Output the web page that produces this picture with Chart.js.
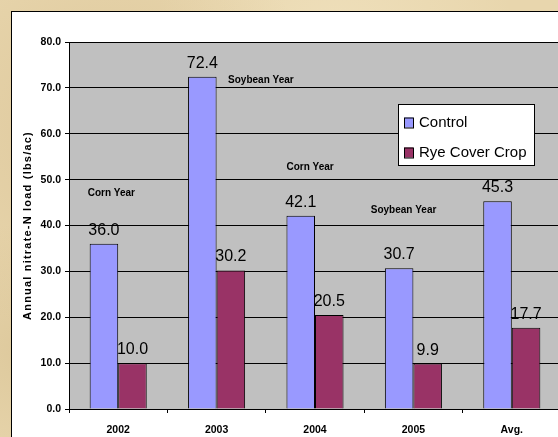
<!DOCTYPE html>
<html>
<head>
<meta charset="utf-8">
<script src="https://cdn.jsdelivr.net/npm/chart.js@4"></script>
<style>
  html, body {
    margin: 0;
    width: 558px;
    height: 437px;
    overflow: hidden;
    background-color: #e8d6ad;
    background-image:
      radial-gradient(circle at 20% 30%, rgba(200,170,120,0.35) 0, rgba(200,170,120,0) 40%),
      radial-gradient(circle at 80% 70%, rgba(190,160,110,0.3) 0, rgba(190,160,110,0) 45%),
      radial-gradient(circle at 60% 10%, rgba(245,232,200,0.5) 0, rgba(245,232,200,0) 35%),
      radial-gradient(circle at 5% 80%, rgba(205,180,130,0.4) 0, rgba(205,180,130,0) 20%);
  }
  #frame {
    position: absolute;
    left: 11px;
    top: 11px;
    width: 570px;
    height: 450px;
    background: #fff;
    border-left: 1px solid #000;
    border-top: 1px solid #000;
  }
  canvas { display: block; }
</style>
</head>
<body>
<div id="frame">
  <canvas id="nitrateChart" width="560" height="440"></canvas>
</div>
<script>
  // Chart data
  const categories = ['2002', '2003', '2004', '2005', 'Avg.'];
  const controlValues = [36.0, 72.4, 42.1, 30.7, 45.3];
  const ryeValues = [10.0, 30.2, 20.5, 9.9, 17.7];
  const seriesNames = ['Control', 'Rye Cover Crop'];
  const yMin = 0, yMax = 80, yStep = 10;
  const yTitle = 'Annual nitrate-N load (lbs/ac)';

  // Crop-year notes: category index, value height, sideways shift in categories
  const yearNotes = [
    { text: 'Corn Year',    index: 0, at: 47.1, shift: -0.07 },
    { text: 'Soybean Year', index: 1, at: 71.7, shift: 0.45 },
    { text: 'Corn Year',    index: 2, at: 52.8, shift: -0.05 },
    { text: 'Soybean Year', index: 3, at: 43.4, shift: -0.10 }
  ];

  const FONT = "'Liberation Sans', Arial, sans-serif";
  Chart.defaults.font.family = FONT;
  Chart.defaults.color = '#000';

  // Gray plot background
  const plotBackground = {
    id: 'plotBackground',
    beforeDraw(chart) {
      const { ctx, chartArea: a } = chart;
      ctx.save();
      ctx.fillStyle = '#c0c0c0';
      ctx.fillRect(a.left, a.top, a.right - a.left, a.bottom - a.top);
      ctx.restore();
    }
  };

  // Value labels above bars, year notes, y title and legend box
  const extras = {
    id: 'extras',
    afterDatasetsDraw(chart) {
      const { ctx, chartArea: a, scales } = chart;
      ctx.save();

      // value labels
      ctx.font = '16px ' + FONT;
      ctx.fillStyle = '#000';
      ctx.textAlign = 'center';
      ctx.textBaseline = 'alphabetic';
      chart.data.datasets.forEach((ds, i) => {
        chart.getDatasetMeta(i).data.forEach((bar, j) => {
          ctx.fillText(ds.data[j].toFixed(1), bar.x, bar.y - 9);
        });
      });

      // year notes
      ctx.font = 'bold 10px ' + FONT;
      ctx.textBaseline = 'middle';
      const catWidth = (a.right - a.left) / categories.length;
      yearNotes.forEach(n => {
        const x = scales.x.getPixelForValue(n.index) + n.shift * catWidth;
        ctx.fillText(n.text, x, scales.y.getPixelForValue(n.at));
      });

      // y axis title
      ctx.font = 'bold 11px ' + FONT;
      ctx.letterSpacing = '1.2px';
      ctx.translate(16, (a.top + a.bottom) / 2);
      ctx.rotate(-Math.PI / 2);
      ctx.fillText(yTitle, 0, 0);
      ctx.restore();

      // legend
      ctx.save();
      const lx = a.left + 329, ly = a.top + 62, lw = 136, lh = 61;
      ctx.fillStyle = '#fff';
      ctx.fillRect(lx, ly, lw, lh);
      ctx.strokeStyle = '#000';
      ctx.lineWidth = 1;
      ctx.strokeRect(lx + 0.5, ly + 0.5, lw, lh);
      ctx.font = '15px ' + FONT;
      ctx.textAlign = 'left';
      ctx.textBaseline = 'middle';
      chart.data.datasets.forEach((ds, i) => {
        const cy = ly + 18.5 + i * 30;
        ctx.fillStyle = ds.backgroundColor;
        ctx.fillRect(lx + 6, cy - 5, 9, 10);
        ctx.strokeRect(lx + 6.5, cy - 4.5, 9, 10);
        ctx.fillStyle = '#000';
        ctx.fillText(ds.label, lx + 21, cy);
      });
      ctx.restore();
    }
  };

  const ctx = document.getElementById('nitrateChart').getContext('2d');
  new Chart(ctx, {
    type: 'bar',
    data: {
      labels: categories,
      datasets: [
        {
          label: seriesNames[0],
          data: controlValues,
          backgroundColor: '#9999ff',
          borderColor: '#000',
          borderWidth: 1,
          categoryPercentage: 0.58,
          barPercentage: 1
        },
        {
          label: seriesNames[1],
          data: ryeValues,
          backgroundColor: '#993366',
          borderColor: '#000',
          borderWidth: 1,
          categoryPercentage: 0.58,
          barPercentage: 1
        }
      ]
    },
    options: {
      responsive: false,
      animation: false,
      devicePixelRatio: 1,
      layout: { padding: { top: 30, right: 11, bottom: 0, left: 0 } },
      plugins: {
        legend: { display: false },
        tooltip: { enabled: false }
      },
      scales: {
        x: {
          afterFit(scale) { scale.height = 43; },
          grid: {
            drawOnChartArea: false,
            tickLength: 4,
            color: '#000'
          },
          border: { color: '#000' },
          ticks: {
            padding: 11,
            font: { size: 10.5, weight: 'bold' }
          }
        },
        y: {
          min: yMin,
          max: yMax,
          afterFit(scale) { scale.width = 57; },
          grid: {
            color: '#000',
            tickLength: 4
          },
          border: { color: '#000' },
          ticks: {
            stepSize: yStep,
            padding: 4,
            font: { size: 10.5, weight: 'bold' },
            callback: v => v.toFixed(1)
          }
        }
      }
    },
    plugins: [plotBackground, extras]
  });
</script>
</body>
</html>
